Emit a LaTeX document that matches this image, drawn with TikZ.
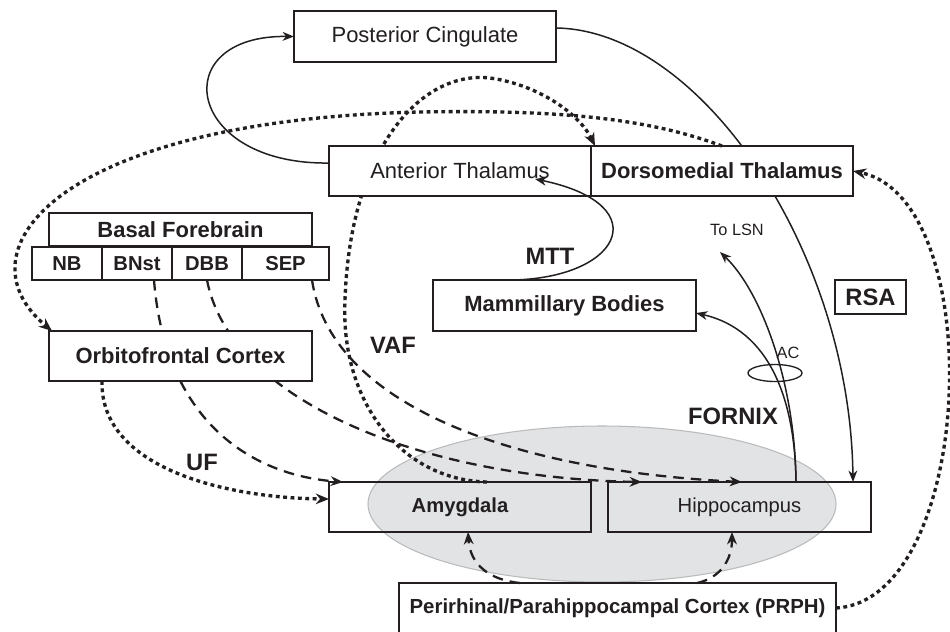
\documentclass[tikz,border=0pt]{standalone}
\usepackage{fontspec}
\setmainfont{Liberation Sans}
\usetikzlibrary{arrows.meta,shapes.geometric}
\pgfdeclarelayer{shade}
\pgfdeclarelayer{behind}
\pgfsetlayers{shade,behind,main}
\definecolor{inkgray}{RGB}{35,31,32}
\definecolor{shadegray}{RGB}{226,227,229}
\definecolor{shadeline}{RGB}{185,186,188}
\newcommand\regionfont{\fontsize{12.5}{15}\selectfont}
\newcommand\smallregionfont{\fontsize{11.5}{14}\selectfont}

\begin{document}
\begin{tikzpicture}[x=0.2mm, y=-0.2mm,
    region/.style={draw=inkgray, line width=0.75pt, fill=white, inner sep=0pt, outer sep=0pt,
        minimum width=52.4mm, minimum height=10mm, text=inkgray, font=\regionfont},
    boldregion/.style={region, font=\regionfont\bfseries},
    cell/.style={boldregion, minimum width=14mm, minimum height=6.6mm, font=\smallregionfont\bfseries},
    tract/.style={text=inkgray, font=\fontsize{13.5}{16}\selectfont\bfseries},
    note/.style={text=inkgray, font=\fontsize{9.3}{11}\selectfont},
    solidpath/.style={draw=inkgray, line width=0.85pt, -{Stealth[length=6.5pt,width=5pt,inset=2pt]}},
    dashpath/.style={draw=inkgray, line width=1.3pt, dash pattern=on 6pt off 4pt,
        -{Stealth[length=7pt,width=5.5pt,inset=2.2pt]}},
    dotpath/.style={draw=inkgray, line width=1.9pt, dash pattern=on 2.2pt off 2pt,
        -{Stealth[length=7.5pt,width=6pt,inset=2.4pt]}}
]
    \useasboundingbox (0,0) rectangle (950,631);

    % temporal lobe shading
    \begin{pgfonlayer}{shade}
        \node[ellipse, fill=shadegray, draw=shadeline, line width=0.6pt, inner sep=0pt,
            minimum width=93.6mm, minimum height=31.2mm] (temporal) at (602,504) {};
    \end{pgfonlayer}

    % top row
    \node[region, minimum height=10.2mm] (postcing) at (425,36.5) {Posterior Cingulate};
    \node[region] (antthal) at (460,171) {Anterior Thalamus};
    \node[boldregion] (dorsthal) at (722,171) {Dorsomedial Thalamus};

    % basal forebrain
    \node[boldregion, minimum width=52.6mm, minimum height=6.6mm] (basal) at (180.5,229.5) {Basal Forebrain};
    \node[cell] (nb) at (67,263.5) {NB};
    \node[cell] (bnst) at (137,263.5) {BNst};
    \node[cell] (dbb) at (207,263.5) {DBB};
    \node[cell, minimum width=17.4mm] (sep) at (285.5,263.5) {SEP};

    % middle
    \node[boldregion, minimum width=52.6mm] (orbito) at (180.5,356) {Orbitofrontal Cortex};
    \node[boldregion, minimum width=52.6mm, minimum height=10.2mm] (mammil) at (564.5,305.5) {Mammillary Bodies};
    \node[boldregion, minimum width=14.2mm, minimum height=6.8mm,
        font=\fontsize{13.5}{16}\selectfont\bfseries] (rsa) at (870.5,297) {RSA};

    % bottom
    \node[boldregion, fill=none, font=\smallregionfont\bfseries] (amyg) at (460,507) {Amygdala};
    \node[region, fill=none, minimum width=52.6mm, font=\smallregionfont] (hippo) at (739.5,507) {Hippocampus};
    \node[boldregion, minimum width=87.4mm, font=\fontsize{11.6}{14}\selectfont\bfseries] (prph) at (617.5,608)
        {Perirhinal/Parahippocampal Cortex (PRPH)};

    % tracts running behind the boxes
    \begin{pgfonlayer}{behind}
        \draw[solidpath] ([yshift=1.7mm]postcing.east) .. controls (700,30) and (850,250) .. ([xshift=-3.6mm]hippo.north east);
        \draw[dotpath] ([xshift=5.4mm]amyg.north) .. controls (400,480) and (340,400) .. (345,300)
            .. controls (350,150) and (420,70) .. (490,78)
            .. controls (540,85) and (580,115) .. ([xshift=0.8mm]dorsthal.north west);
        \draw[dashpath] ([xshift=3.4mm]bnst.south) .. controls (165,420) and (250,475) .. ([xshift=2.8mm]amyg.north west);
        \draw[dashpath] (dbb.south) .. controls (230,400) and (420,478) .. ([xshift=6.8mm]hippo.north west);
        \draw[dashpath] ([xshift=5.3mm]sep.south) .. controls (330,400) and (500,470) .. ([xshift=0.5mm]hippo.north);
    \end{pgfonlayer}

    % tracts
    \draw[solidpath] ([yshift=1.6mm]antthal.west) .. controls (185,165) and (165,35) .. (postcing.west);
    \draw[dotpath] (dorsthal.north) .. controls (640,115) and (540,110) .. (420,112)
        .. controls (60,120) and (-45,250) .. ([xshift=0.6mm]orbito.north west);
    \draw[dotpath] (prph.east) .. controls (975,600) and (990,200) .. (dorsthal.east);
    \draw[dotpath] ([xshift=10.6mm]orbito.south west) .. controls (100,470) and (230,498) .. ([yshift=1.6mm]amyg.west);
    \draw[solidpath] ([xshift=-12.3mm]mammil.north) .. controls (620,282) and (660,205) .. ([xshift=15mm,yshift=3.4mm]antthal.south);
    \draw[dashpath] ([xshift=24.2mm]prph.north west) .. controls (490,580) and (470,565) .. ([xshift=1.6mm]amyg.south);
    \draw[dashpath] ([xshift=59.6mm]prph.north west) .. controls (720,578) and (732,560) .. ([xshift=-1.5mm]hippo.south);

    % fornix
    \node[note] (lsnlabel) at (737,230) {To LSN};
    \coordinate (lsn) at (720,252);
    \draw[solidpath] ([xshift=11.3mm]hippo.north) .. controls (795,380) and (760,290) .. (lsn);
    \draw[solidpath] ([xshift=11.3mm]hippo.north) .. controls (795,400) and (770,330) .. ([yshift=-1.5mm]mammil.east);
    \node[ellipse, draw=inkgray, line width=0.75pt, inner sep=0pt,
        minimum width=10.8mm, minimum height=3.4mm] (acring) at (775,373) {};
    \node[note] (aclabel) at (788,353) {AC};

    % tract names
    \node[tract] (mttlabel) at (550,256) {MTT};
    \node[tract] (vaflabel) at (393,345) {VAF};
    \node[tract] (uflabel) at (202,462) {UF};
    \node[tract] (fornixlabel) at (733,416) {FORNIX};
\end{tikzpicture}
\end{document}
